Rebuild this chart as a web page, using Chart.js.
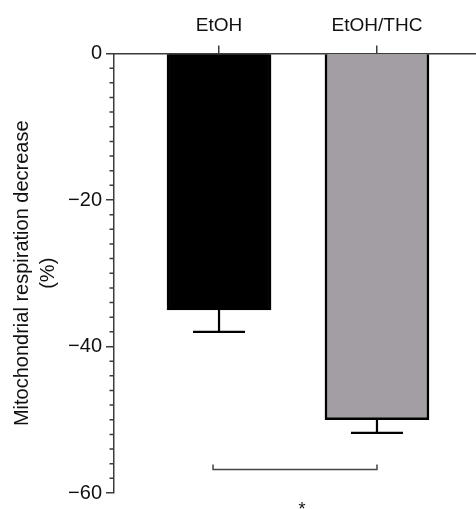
<!DOCTYPE html>
<html>
<head>
<meta charset="utf-8">
<script src="https://cdn.jsdelivr.net/npm/chart.js@4.4.1/dist/chart.umd.min.js"></script>
<style>
  html, body { margin: 0; padding: 0; background: #fff; }
</style>
</head>
<body>
<canvas id="respChart" width="476" height="509"></canvas>
<script>
// Data
const categories = ['EtOH', 'EtOH/THC'];
const means = [-35, -50];
const errors = [3, 1.8];
const barColors = ['#000000', '#a39ea3'];
const yTicks = [0, -20, -40, -60];
const minorStep = 2;
const sigPair = [0, 1];
const sigLevel = -56.8;
const sigLabel = '*';

const axisColor = '#3c3c3c';
const font = 'Liberation Sans, Arial, Helvetica, sans-serif';

// Minor ticks on the y axis
const minorTicks = {
  id: 'minorTicks',
  afterDraw(chart) {
    const y = chart.scales.y;
    const ctx = chart.ctx;
    ctx.save();
    ctx.strokeStyle = axisColor;
    ctx.lineWidth = 1.5;
    ctx.beginPath();
    for (let v = y.max; v >= y.min; v -= minorStep) {
      if (yTicks.includes(v)) continue;
      const py = y.getPixelForValue(v);
      ctx.moveTo(y.right - 4.5, py);
      ctx.lineTo(y.right, py);
    }
    ctx.stroke();
    ctx.restore();
  }
};

// Error bars (one side, away from zero)
const errorBars = {
  id: 'errorBars',
  afterDatasetsDraw(chart) {
    const y = chart.scales.y;
    const meta = chart.getDatasetMeta(0);
    const ctx = chart.ctx;
    ctx.save();
    ctx.strokeStyle = '#000';
    ctx.lineWidth = 2.2;
    meta.data.forEach((bar, i) => {
      const top = y.getPixelForValue(means[i]);
      const end = y.getPixelForValue(means[i] - errors[i]);
      const half = bar.width / 4;
      ctx.beginPath();
      ctx.moveTo(bar.x, top);
      ctx.lineTo(bar.x, end);
      ctx.moveTo(bar.x - half, end);
      ctx.lineTo(bar.x + half, end);
      ctx.stroke();
    });
    ctx.restore();
  }
};

// Significance bracket under the bars
const sigBracket = {
  id: 'sigBracket',
  afterDraw(chart) {
    const x = chart.scales.x;
    const y = chart.scales.y;
    const ctx = chart.ctx;
    const x1 = x.getPixelForValue(sigPair[0] + 1) - 6;
    const x2 = x.getPixelForValue(sigPair[1] + 1);
    const py = y.getPixelForValue(sigLevel);
    ctx.save();
    ctx.strokeStyle = '#444';
    ctx.lineWidth = 1.5;
    ctx.beginPath();
    ctx.moveTo(x1, py - 5);
    ctx.lineTo(x1, py);
    ctx.lineTo(x2, py);
    ctx.lineTo(x2, py - 5);
    ctx.stroke();
    ctx.fillStyle = '#111';
    ctx.font = '18px ' + font;
    ctx.textAlign = 'center';
    ctx.textBaseline = 'alphabetic';
    ctx.fillText(sigLabel, (x1 + x2) / 2 + 7, py + 45);
    ctx.restore();
  }
};

new Chart(document.getElementById('respChart'), {
  type: 'bar',
  data: {
    datasets: [{
      data: categories.map((c, i) => ({ x: i + 1, y: means[i] })),
      backgroundColor: barColors,
      borderColor: '#000',
      borderWidth: 2.5,
      barThickness: 104
    }]
  },
  options: {
    responsive: false,
    animation: false,
    layout: { padding: { left: 0, right: 0, top: 0, bottom: 8 } },
    plugins: {
      legend: { display: false },
      tooltip: { enabled: false }
    },
    scales: {
      x: {
        type: 'linear',
        position: 'top',
        offset: false,
        min: 0.335,
        max: 2.627,
        afterBuildTicks: (axis) => {
          axis.ticks = categories.map((c, i) => ({ value: i + 1 }));
        },
        afterFit: (axis) => { axis.height = 53.5; },
        ticks: {
          autoSkip: false,
          maxRotation: 0,
          padding: 8,
          color: '#111',
          font: { family: font, size: 19 },
          callback: (v) => categories[v - 1]
        },
        grid: {
          offset: false,
          drawOnChartArea: false,
          drawTicks: true,
          tickLength: 8,
          color: axisColor,
          lineWidth: 1.5
        },
        border: { display: true, color: axisColor, width: 1.5 }
      },
      y: {
        min: -60,
        max: 0,
        afterBuildTicks: (axis) => {
          axis.ticks = yTicks.map(v => ({ value: v }));
        },
        afterFit: (axis) => { axis.width = 114; },
        ticks: {
          padding: 4,
          color: '#111',
          font: { family: font, size: 20 },
          callback: (v) => String(v).replace('-', '\u2212')
        },
        grid: {
          drawOnChartArea: false,
          drawTicks: true,
          tickLength: 8,
          color: axisColor,
          lineWidth: 1.5
        },
        border: { display: true, color: axisColor, width: 1.5 },
        title: {
          display: true,
          text: ['Mitochondrial respiration decrease', '(%)'],
          color: '#111',
          font: { family: font, size: 20, lineHeight: '26px' },
          padding: { top: 9, bottom: 0 }
        }
      }
    }
  },
  plugins: [minorTicks, errorBars, sigBracket]
});
</script>
</body>
</html>
